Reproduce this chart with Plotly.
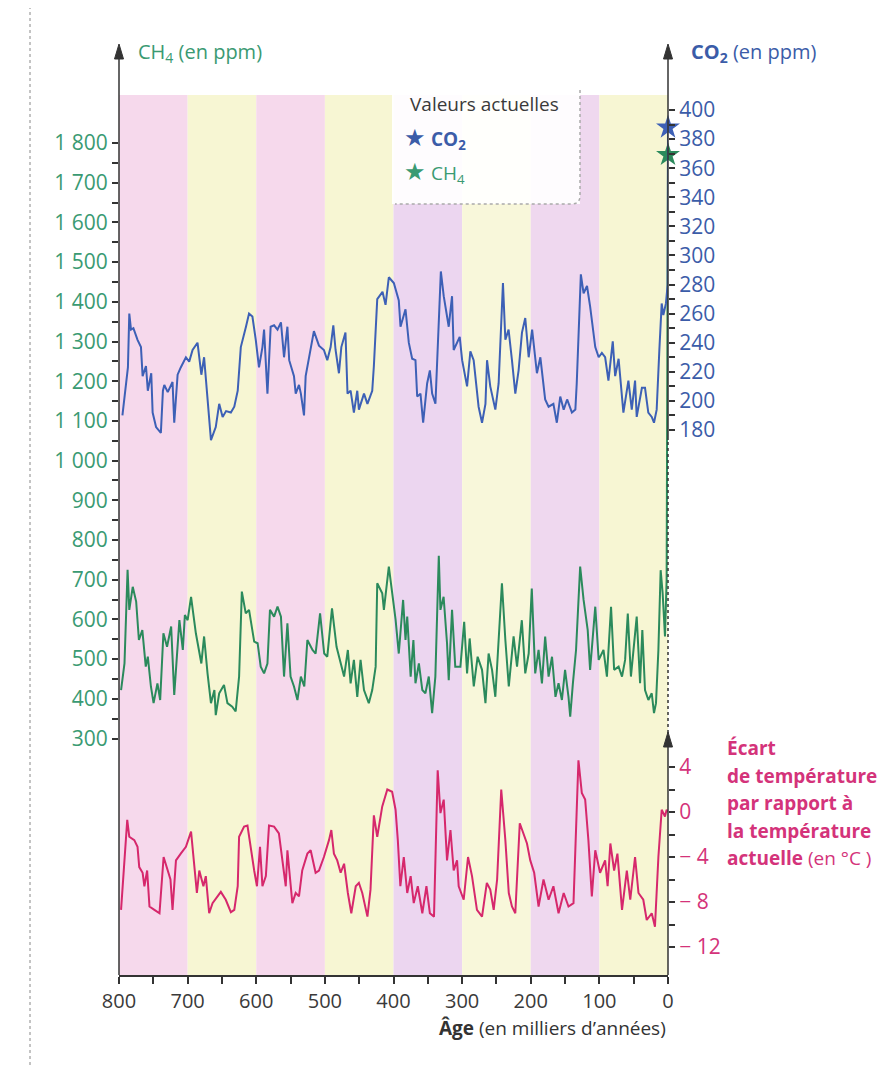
import plotly.graph_objects as go

# ---------------- data ----------------
co2_age = [795, 790, 787, 785, 782.5, 779, 773, 768, 765.6, 760.7, 758, 753, 751, 746, 739, 736, 734, 729, 722, 719.5,
           714.6, 710, 702.5, 697.7, 692.8, 685.6, 680, 676, 673.5, 666, 659, 654, 649, 644, 637, 632, 627, 622.5, 615,
           610.5, 605.6, 600.7, 596, 591, 588.6, 586, 583.7, 579, 574, 569, 564, 559.5, 554.6, 552, 545, 542.5, 537.7,
           535, 530.4, 528, 520.7, 516, 508.6, 501.4, 496.5, 491.6, 487.7, 484.4, 479.5, 476, 470, 467, 462.5, 457.7,
           452.8, 450.4, 443, 438, 431, 428.6, 423.7, 416, 411.6, 406.8, 399.5, 392.3, 389.8, 382.5, 377.7, 372.8, 368,
           365.5, 360.7, 356.8, 351, 347, 343.7, 338.9, 331, 326.8, 319.5, 314.7, 312.3, 303.5, 300, 292.8, 288, 283.2,
           276, 271, 266, 263.7, 259, 251.6, 246.8, 240.5, 237, 232.3, 227.4, 222.5, 217.7, 212.8, 208, 203, 198, 191,
           186, 179, 174, 167, 162, 157, 152, 147, 140, 135, 133, 127, 123, 118, 113.5, 106, 101, 96.4, 91.6, 86.8,
           80.5, 77, 72, 65, 57.7, 52.8, 48, 45.6, 38, 33.5, 28.7, 23.7, 20.4, 16.5, 12.6, 9.2, 6.8, 3, 0.5, 0]
co2_ppm = [190, 210, 223, 260, 249, 250, 242, 237, 217, 224, 207, 219, 192, 182, 178, 207, 211, 206, 213, 185,
           218, 223, 230, 227, 235, 240, 218, 230, 217, 173, 182, 198, 189, 193, 192, 196, 207, 237, 251,
           260, 258, 242, 223, 237, 249, 228, 205, 251, 252, 249, 254, 230, 251, 228, 217, 205, 211,
           205, 190, 217, 235, 248, 238, 235, 228, 237, 252, 235, 219, 237, 247, 205, 207, 192,
           207, 194, 205, 198, 207, 224, 270, 275, 266, 285, 281, 269, 251, 263, 240, 229, 228,
           203, 205, 185, 212, 221, 205, 198, 289, 272, 251, 272, 235, 244, 228, 210, 234, 228,
           196, 185, 198, 228, 210, 194, 212, 281, 242, 249, 228, 205, 221, 247, 257, 230, 249, 219,
           230, 201, 196, 198, 185, 203, 194, 201, 192, 194, 212, 287, 274, 279, 265, 237, 230, 233, 230, 214,
           241, 217, 229, 192, 214, 194, 214, 189, 209, 209, 192, 189, 185, 194, 235, 267, 259, 267, 280, 388]

ch4_age = [797, 792, 787.5, 785, 780, 775, 771, 766, 761, 758, 753.5, 749.6, 744, 740, 735.3, 730, 724, 719.5, 712,
           707, 704, 700, 695, 688, 680, 676, 671, 666, 661, 659, 654, 647, 642, 635, 630, 625, 621, 615.3, 610.5,
           603, 598, 593.5, 588.6, 583.7, 580, 574, 569, 564, 559.5, 554.6, 550, 545, 540, 535, 530, 525.5, 518,
           513.5, 507, 501, 496.5, 489.6, 483, 477, 472, 466.5, 462.5, 457.7, 452.8, 448, 443, 436, 431, 426, 423.7,
           416.4, 414, 406.8, 402, 397, 392.3, 386, 382.5, 380, 375, 371, 368, 363, 358, 353.5, 348.6, 343.7, 339,
           334, 331.6, 327, 322, 319.5, 314.7, 310, 302.5, 297, 292.8, 289, 283, 277.4, 271, 266, 261.4, 256.4,
           251.6, 246.8, 242, 237, 232, 225, 220, 213, 208, 203, 198.5, 193.5, 188.6, 183.7, 179, 174, 169, 164,
           159.5, 154.6, 150, 145, 142.5, 138.6, 134, 128, 123, 117, 113.5, 106, 101, 94, 89, 83, 78.5, 72, 67,
           62.5, 58.6, 54, 50.4, 45.6, 40.7, 37.4, 33.5, 28.6, 23.7, 20.4, 17.5, 14, 10.7, 7.8, 4.4, 2, 0]
ch4_ppm = [422, 489, 725, 624, 682, 645, 548, 573, 481, 506, 431, 389, 439, 397, 565, 531, 582, 410, 598,
           523, 611, 598, 657, 565, 489, 557, 464, 389, 422, 359, 414, 435, 389, 380, 368, 456, 670, 615, 624,
           544, 540, 481, 464, 489, 624, 607, 632, 607, 456, 590, 456, 431, 397, 456, 431, 548, 523,
           514, 615, 514, 506, 628, 531, 489, 456, 523, 439, 498, 405, 498, 422, 389, 422, 481, 691,
           666, 624, 733, 666, 600, 514, 649, 548, 607, 456, 548, 439, 489, 422, 414, 456, 364, 456,
           760, 624, 657, 540, 447, 624, 481, 481, 594, 464, 552, 431, 506, 473, 389, 514, 473,
           405, 548, 691, 548, 431, 557, 481, 598, 464, 514, 678, 464, 523, 439, 557, 456, 506, 405,
           439, 397, 473, 405, 355, 439, 523, 733, 649, 573, 473, 632, 498, 523, 456, 632, 473, 481, 456,
           498, 615, 456, 523, 607, 439, 573, 422, 397, 414, 364, 389, 523, 724, 666, 557, 700, 1770]

temp_age = [797, 792, 788, 785, 777.7, 773, 770.5, 765.6, 763, 759, 755.6, 748.4, 741, 735, 729, 725, 722, 717, 710,
            702.5, 695, 690.5, 686.5, 683, 677, 673.5, 668.6, 663.7, 656.4, 651.6, 644.4, 637, 632, 627, 625, 617.7,
            612.8, 610.5, 603, 599, 594.5, 591, 586, 581.4, 574, 567, 562, 557, 554.6, 547.4, 542.5, 537.7, 533,
            525.5, 520.7, 513.5, 508.6, 501.4, 494, 490.6, 486.8, 482, 477, 472, 466.5, 461.5, 455, 450.4, 445.5,
            438, 433.5, 428.6, 423.7, 416.4, 409, 402, 397, 393.7, 390, 385, 380, 375, 370.5, 364.6, 358, 352, 347,
            341, 335.6, 331.6, 326.8, 322, 317, 312.3, 307.4, 305, 297.7, 291.4, 285.6, 278.4, 271, 264, 259, 254,
            249, 243, 237, 232, 227.4, 222.5, 216, 210.5, 205.5, 200.7, 195, 188.6, 181.4, 174, 167, 159.5, 152,
            145, 137.7, 130.5, 125.6, 120.7, 116, 111, 106, 99, 91.6, 88, 84, 78.5, 73.7, 67, 60, 55, 48, 43, 36,
            31, 23.7, 19, 14, 9.2, 4.4, 2, 0]
temp_dev = [-8.7, -4.0, -0.7, -2.2, -2.5, -3.1, -4.9, -5.4, -6.6, -5.2, -8.4, -8.7, -9.0, -4.0, -5.2, -6.0, -8.7, -4.3, -3.7,
            -3.1, -1.75, -4.3, -7.2, -5.2, -6.6, -5.7, -9.0, -8.1, -7.5, -7.1, -7.8, -8.9, -8.7, -6.6, -2.2, -1.3,
            -1.2, -2.2, -5.2, -6.6, -3.1, -6.6, -5.7, -1.2, -1.3, -1.9, -4.3, -6.6, -3.4, -8.1, -7.2, -7.5, -5.2,
            -3.7, -3.4, -5.4, -5.2, -4.0, -2.5, -1.6, -3.7, -4.3, -5.4, -4.6, -7.2, -9.0, -6.6, -6.3, -7.2,
            -9.3, -6.9, -0.3, -2.2, 0.5, 2.0, 1.8, 0.2, -2.5, -6.6, -4.0, -7.2, -5.7, -8.1, -6.6, -9.0, -6.6, -9.0,
            -9.3, 3.7, -0.1, 1.1, -4.3, -1.6, -5.2, -4.3, -6.6, -7.8, -4.0, -5.7, -8.7, -9.3, -6.3, -6.9, -8.7,
            -6.0, 2.0, -2.5, -7.2, -8.4, -9.0, -1.0, -1.9, -2.8, -4.3, -5.4, -8.4, -6.0, -7.8, -6.6, -9.0, -7.2,
            -8.4, -8.1, 4.6, 1.7, 1.1, -2.5, -7.5, -3.4, -5.4, -4.3, -6.6, -2.8, -5.2, -3.7, -8.7, -5.2, -7.8, -4.0, -7.2, -7.8,
            -9.6, -9.0, -10.2, -4.0, 0.2, -0.4, 0.2, 0.0]

now_co2 = [388]
now_ch4 = [1770]

x_ticks = list(range(0, 801, 100))
x_labels = [str(v) for v in x_ticks]
x_minor = list(range(50, 800, 100))
ch4_ticks = list(range(300, 1801, 100))
ch4_labels = [f"{v // 1000} {v % 1000:03d}" if v >= 1000 else str(v) for v in ch4_ticks]
ch4_minor = list(range(350, 1800, 100))
co2_ticks = list(range(180, 401, 20))
co2_labels = [str(v) for v in co2_ticks]
co2_minor = list(range(190, 400, 20))
t_ticks = [-12, -8, -4, 0, 4]
t_labels = ["− 12", "− 8", "− 4", "0", "4"]
t_minor = [-10, -6, -2, 2]

temp_title_lines = ["<b>Écart</b>", "<b>de température</b>", "<b>par rapport à</b>", "<b>la température</b>",
                    "<b>actuelle</b> (en °C )"]

# ---------------- styles ----------------
OFF = 8                       # page body margin of the browser
W, H = 891 - OFF, 1065 - OFF  # figure size
L, R, T, B = 119, 668, 45, 975  # plot area in reference-pixel coordinates
FONT = "Open Sans"
BLUE, GREEN, RED = "#3d60b6", "#2b8a5c", "#d6286c"
BLUE_T, GREEN_T, RED_T = "#3b5ca8", "#3a9a72", "#d4337a"
AX = "#333333"


def px(x):
    return (x - L) / (R - L)


def py(y):
    return (B - y) / (B - T)


fig = go.Figure()
fig.add_trace(go.Scatter(x=ch4_age, y=ch4_ppm, mode="lines", line=dict(color=GREEN, width=2), yaxis="y"))
fig.add_trace(go.Scatter(x=co2_age, y=co2_ppm, mode="lines", line=dict(color=BLUE, width=2), yaxis="y2"))
fig.add_trace(go.Scatter(x=temp_age, y=temp_dev, mode="lines", line=dict(color=RED, width=2), yaxis="y3"))
fig.add_trace(go.Scatter(x=[0], y=now_co2, mode="markers", yaxis="y2", cliponaxis=False,
                         marker=dict(symbol="star", size=18, color=BLUE, line=dict(width=0))))
fig.add_trace(go.Scatter(x=[0], y=now_ch4, mode="markers", yaxis="y", cliponaxis=False,
                         marker=dict(symbol="star", size=18, color=GREEN, line=dict(width=0))))

shapes = []
band_cols = ["#f6d9ec", "#f7f6d3", "#f6d9ec", "#f7f6d3", "#ecd6f0", "#f8f7da", "#efd8ef", "#f7f6d3"]
for i, c in enumerate(band_cols):
    shapes.append(dict(type="rect", xref="x", yref="paper", x0=800 - 100 * i, x1=700 - 100 * i,
                       y0=0, y1=py(95), fillcolor=c, line=dict(width=0), layer="below"))
# legend box
shapes.append(dict(type="rect", xref="paper", yref="paper", x0=px(392), x1=px(580), y0=py(204), y1=py(84),
                   fillcolor="rgba(255,255,255,0.92)", line=dict(width=0), layer="below"))
shapes.append(dict(type="path", xref="paper", yref="paper",
                   path=f"M {px(580)},{py(90)} L {px(580)},{py(196)} Q {px(580)},{py(204)} {px(571)},{py(204)} L {px(395)},{py(204)}",
                   line=dict(color="#aaaaaa", width=1.5, dash="dot"), layer="below"))
# left axis with arrow
shapes.append(dict(type="line", xref="paper", yref="paper", x0=0, x1=0, y0=0, y1=py(55),
                   line=dict(color=AX, width=1.5)))
shapes.append(dict(type="path", xref="paper", yref="paper",
                   path=f"M {px(114.5)},{py(59)} L {px(119)},{py(44)} L {px(123.5)},{py(59)} Z",
                   fillcolor=AX, line=dict(color=AX, width=1)))
# right CO2 axis
shapes.append(dict(type="line", xref="paper", yref="paper", x0=1, x1=1, y0=py(440), y1=py(55),
                   line=dict(color=AX, width=1.5)))
shapes.append(dict(type="path", xref="paper", yref="paper",
                   path=f"M {px(663.5)},{py(59)} L {px(668)},{py(44)} L {px(672.5)},{py(59)} Z",
                   fillcolor=AX, line=dict(color=AX, width=1)))
shapes.append(dict(type="line", xref="paper", yref="paper", x0=1, x1=1, y0=py(745), y1=py(440),
                   line=dict(color=AX, width=1.5, dash="dot")))
# temperature axis
shapes.append(dict(type="line", xref="paper", yref="paper", x0=1, x1=1, y0=0, y1=py(742),
                   line=dict(color=AX, width=1.5)))
shapes.append(dict(type="path", xref="paper", yref="paper",
                   path=f"M {px(663.5)},{py(747)} L {px(668)},{py(732)} L {px(672.5)},{py(747)} Z",
                   fillcolor=AX, line=dict(color=AX, width=1)))
# page border
shapes.append(dict(type="line", xref="paper", yref="paper", x0=px(30), x1=px(30), y0=py(1065), y1=py(8),
                   line=dict(color="#888888", width=1, dash="dot")))

annotations = [
    dict(x=px(136), y=py(53), xref="paper", yref="paper", xanchor="left", yanchor="middle", showarrow=False,
         text="CH<sub>4</sub> (en ppm)", font=dict(family=FONT, size=20, color=GREEN_T)),
    dict(x=px(689), y=py(53), xref="paper", yref="paper", xanchor="left", yanchor="middle", showarrow=False,
         text="<b>CO<sub>2</sub></b> (en ppm)", font=dict(family=FONT, size=20, color=BLUE_T)),
    dict(x=px(408), y=py(104), xref="paper", yref="paper", xanchor="left", yanchor="middle", showarrow=False,
         text="Valeurs actuelles", font=dict(family=FONT, size=19, color="#3a3a3a")),
    dict(x=px(402), y=py(137), xref="paper", yref="paper", xanchor="left", yanchor="middle", showarrow=False,
         text="<span style='font-size:24px'>★</span> <b>CO<sub>2</sub></b>", font=dict(family=FONT, size=19, color=BLUE_T)),
    dict(x=px(402), y=py(171), xref="paper", yref="paper", xanchor="left", yanchor="middle", showarrow=False,
         text="<span style='font-size:24px'>★</span> CH<sub>4</sub>", font=dict(family=FONT, size=19, color=GREEN_T)),
    dict(x=1, y=py(1028), xref="paper", yref="paper", xanchor="right", yanchor="middle", showarrow=False,
         text="<b>Âge</b> (en milliers d’années)", font=dict(family=FONT, size=19, color="#333333")),
]
for k, line in enumerate(temp_title_lines):
    annotations.append(dict(x=px(725), y=py(748 + 27.5 * k), xref="paper", yref="paper", xanchor="left",
                            yanchor="middle", showarrow=False, text=line,
                            font=dict(family=FONT, size=19, color=RED_T)))

tick_common = dict(ticks="outside", ticklen=6, tickwidth=1.5, tickcolor=AX, showgrid=False, zeroline=False,
                   showline=False, fixedrange=True)


def minor(vals, length=6):
    return dict(tickmode="array", tickvals=vals, ticks="outside", ticklen=length, tickwidth=1.5,
                tickcolor=AX, showgrid=False)


fig.update_layout(
    width=W, height=H,
    margin=dict(l=L - OFF, r=W - (R - OFF), t=T - OFF, b=H - (B - OFF), pad=0),
    paper_bgcolor="white", plot_bgcolor="white",
    showlegend=False,
    font=dict(family=FONT),
    xaxis=dict(range=[800, 0], tickmode="array", tickvals=x_ticks, ticktext=x_labels, minor=minor(x_minor, 7),
               ticks="outside", ticklen=7, tickwidth=1.5, tickcolor=AX, showline=True, linecolor=AX,
               linewidth=1.5, showgrid=False, zeroline=False, tickfont=dict(size=20, color="#3a3a3a")),
    yaxis=dict(range=[1800 - (B - 143) / 0.397, 1800 + (143 - T) / 0.397], tickmode="array",
               tickvals=ch4_ticks, ticktext=ch4_labels, side="left", minor=minor(ch4_minor),
               tickfont=dict(size=21, color=GREEN_T), **tick_common),
    yaxis2=dict(range=[400 - (B - 110) / 1.4545, 400 + (110 - T) / 1.4545], tickmode="array",
                tickvals=co2_ticks, ticktext=co2_labels, side="right", overlaying="y", anchor="x",
                minor=minor(co2_minor), tickfont=dict(size=21, color=BLUE_T), **tick_common),
    yaxis3=dict(range=[-(B - 812) / 11.25, (812 - T) / 11.25], tickmode="array",
                tickvals=t_ticks, ticktext=t_labels, side="right", overlaying="y", anchor="x",
                minor=minor(t_minor), tickfont=dict(size=21, color=RED_T), **tick_common),
    shapes=shapes,
    annotations=annotations,
)

fig.write_html("out.html")
